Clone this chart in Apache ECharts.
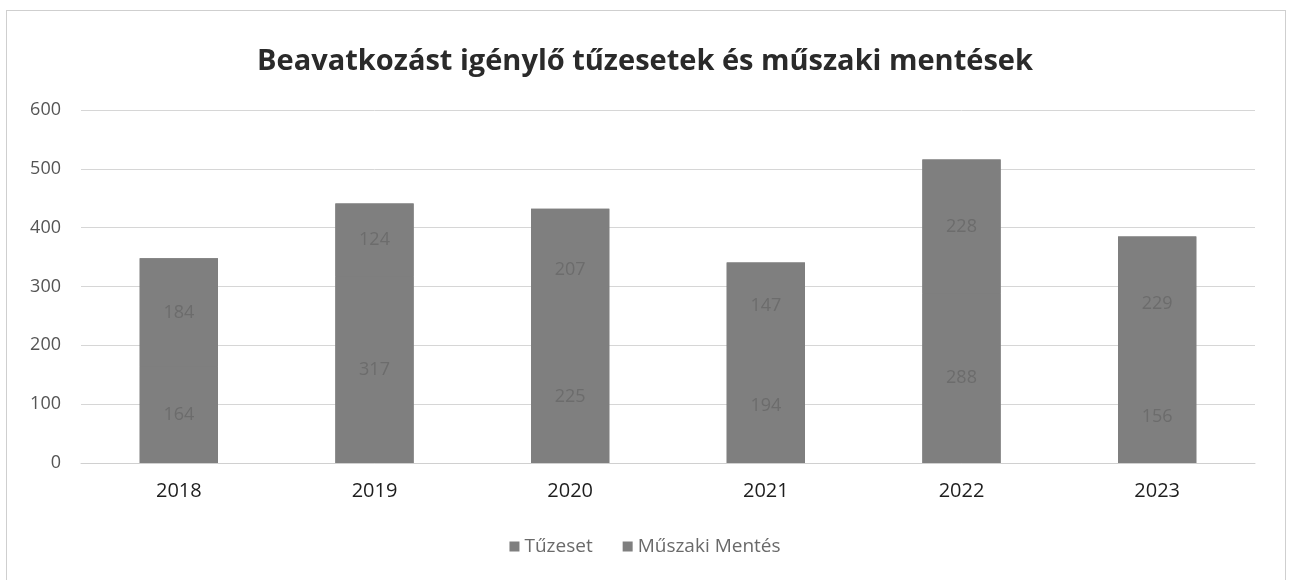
<!DOCTYPE html>
<html lang="hu">
<head>
  <meta charset="UTF-8">
  <title>Beavatkozást igénylő tűzesetek és műszaki mentések</title>
  <script src="https://cdn.jsdelivr.net/npm/echarts@6/dist/echarts.min.js"></script>
</head>
<body style="margin: 0;padding: 0;background: #fff;">
  <div id="frame" style="position: absolute;left: 6px;top: 10px;width: 1280px;height: 575px;border: 1px solid #cfcfcf;box-sizing: border-box;"></div>
  <div id="main" style="position: absolute;left: 0;top: 0;width: 1290px;height: 580px;"></div>
  <script>
    var years = ['2018', '2019', '2020', '2021', '2022', '2023'];
    var tuzeset = [164, 317, 225, 194, 288, 156];
    var muszakiMentes = [184, 124, 207, 147, 228, 229];

    // full column height, drawn underneath so the two stacked parts show no seam
    var totals = tuzeset.map(function (v, i) { return v + muszakiMentes[i]; });

    var chart = echarts.init(document.getElementById('main'));
    var font = 'Open Sans, Noto Sans, sans-serif';
    var barColor = '#7f7f7f';
    var barLabel = {
      show: true,
      position: 'inside',
      color: '#6c6c6c',
      fontSize: 18,
      fontFamily: font
    };

    var option = {
      backgroundColor: 'transparent',
      title: {
        text: 'Beavatkozást igénylő tűzesetek és műszaki mentések',
        left: 'center',
        top: 42,
        textStyle: { fontSize: 29, fontWeight: 'bold', color: '#2a2a2a', fontFamily: font }
      },
      legend: {
        bottom: 19,
        left: 'center',
        itemWidth: 10,
        itemHeight: 10,
        itemGap: 30,
        icon: 'rect',
        textStyle: { color: '#6a6a6a', fontSize: 19, fontFamily: font },
        data: ['Tűzeset', 'Műszaki Mentés']
      },
      grid: { left: 81, right: 35, top: 110, bottom: 117 },
      xAxis: {
        type: 'category',
        data: years,
        axisLine: { lineStyle: { color: '#d0d0d0' } },
        axisTick: { show: false },
        axisLabel: { color: '#1e1e1e', fontSize: 20, margin: 18, fontFamily: font }
      },
      yAxis: {
        type: 'value',
        min: 0,
        max: 600,
        interval: 100,
        axisLabel: { color: '#555', fontSize: 18, margin: 20, fontFamily: font },
        splitLine: { lineStyle: { color: '#d6d6d6' } }
      },
      series: [
        {
          name: 'total',
          type: 'bar',
          data: totals,
          barWidth: '40%',
          barGap: '-100%',
          silent: true,
          itemStyle: { color: barColor },
          label: { show: false }
        },
        {
          name: 'Tűzeset',
          type: 'bar',
          stack: 'total',
          data: tuzeset,
          barWidth: '40%',
          itemStyle: { color: barColor },
          label: barLabel
        },
        {
          name: 'Műszaki Mentés',
          type: 'bar',
          stack: 'total',
          data: muszakiMentes,
          barWidth: '40%',
          itemStyle: { color: barColor },
          label: barLabel
        }
      ]
    };

    chart.setOption(option);
  </script>
</body>
</html>
